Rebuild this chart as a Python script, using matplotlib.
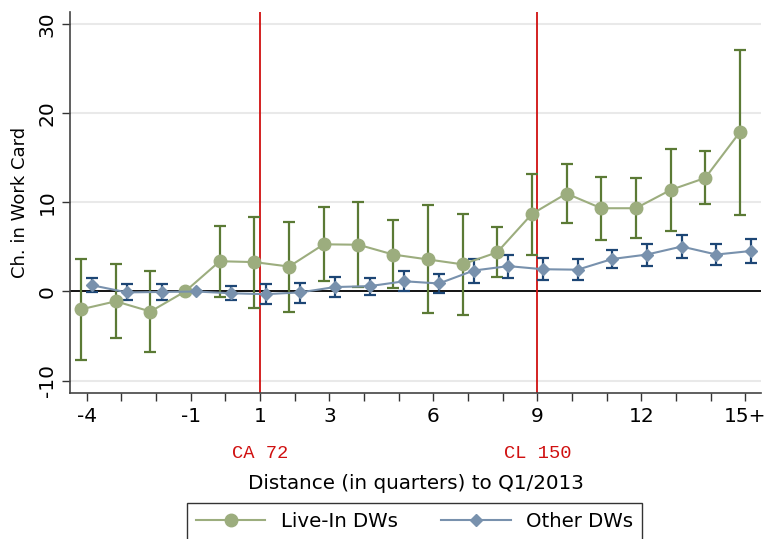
import numpy as np
import matplotlib
matplotlib.use('Agg')
import matplotlib.pyplot as plt

# trimestres relativos a Q1/2013 (15 = 15+)
quarters = np.arange(-4, 16)
tick_labels = {-4: '-4', -1: '-1', 1: '1', 3: '3', 6: '6', 9: '9', 12: '12', 15: '15+'}

# Live-In DWs
live_mean = [-2.0, -1.1, -2.25, 0.0, 3.4, 3.3, 2.8, 5.3, 5.25, 4.15, 3.6, 3.05, 4.4, 8.7,
             11.0, 9.35, 9.35, 11.4, 12.75, 17.9]
live_hi = [3.7, 3.1, 2.3, 0.0, 7.4, 8.4, 7.8, 9.5, 10.0, 8.0, 9.7, 8.7, 7.2, 13.2,
           14.3, 12.9, 12.75, 16.0, 15.75, 27.1]
live_lo = [-7.7, -5.25, -6.8, 0.0, -0.6, -1.9, -2.25, 1.2, 0.45, 0.35, -2.4, -2.6, 1.6, 4.1,
           7.7, 5.8, 6.0, 6.8, 9.8, 8.6]

# Other DWs
other_mean = [0.7, -0.1, -0.05, 0.0, -0.2, -0.3, -0.1, 0.5, 0.6, 1.15, 0.9, 2.35, 2.85, 2.5,
              2.45, 3.65, 4.15, 5.05, 4.15, 4.55]
other_hi = [1.5, 0.8, 0.8, 0.0, 0.6, 0.85, 1.0, 1.65, 1.5, 2.3, 2.0, 3.6, 4.15, 3.8,
            3.7, 4.65, 5.3, 6.4, 5.3, 5.9]
other_lo = [-0.1, -1.0, -0.9, 0.0, -1.0, -1.4, -1.25, -0.6, -0.35, 0.05, -0.2, 1.0, 1.5, 1.25,
            1.25, 2.65, 2.9, 3.8, 3.0, 3.25]

# leyes (trimestre, etiqueta)
events = [(1, 'CA 72'), (9, 'CL 150')]

green_line = '#9cad7e'
green_err = '#5b7a35'
blue_line = '#7891ad'
blue_err = '#1d4675'
red = '#d01010'

fig = plt.figure(figsize=(7.64, 5.39), dpi=100)
ax = fig.add_axes([0.0916, 0.270, 0.905, 0.708])

for y in [-10, 10, 20, 30]:
    ax.axhline(y, color='#e9e9e9', lw=1.5, zorder=0)
ax.axhline(0, color='black', lw=1.3, zorder=1)

for q, lab in events:
    ax.axvline(q, color=red, lw=1.3, zorder=1)
    ax.text(q, -18.2, lab, color=red, ha='center', va='center',
            family='Liberation Mono', fontsize=13.5)

off = 0.16
x_live = quarters - off
x_other = quarters + off

def err(mean, lo, hi):
    m = np.array(mean)
    return [m - np.array(lo), np.array(hi) - m]

ax.errorbar(x_live, live_mean, yerr=err(live_mean, live_lo, live_hi), fmt='none',
            ecolor=green_err, elinewidth=1.6, capsize=4, capthick=1.6, zorder=2)
ax.errorbar(x_other, other_mean, yerr=err(other_mean, other_lo, other_hi), fmt='none',
            ecolor=blue_err, elinewidth=1.6, capsize=4, capthick=1.6, zorder=2)
ax.plot(x_live, live_mean, color=green_line, lw=1.5, marker='o', ms=9,
        mfc=green_line, mec=green_line, zorder=3, label='Live-In DWs')
ax.plot(x_other, other_mean, color=blue_line, lw=1.5, marker='D', ms=6,
        mfc=blue_line, mec=blue_line, zorder=3, label='Other DWs')

ax.set_xlim(-4.48, 15.46)
ax.set_ylim(-11.45, 31.4)
ax.set_xticks(quarters)
ax.set_xticklabels([tick_labels.get(q, '') for q in quarters])
ax.set_yticks([-10, 0, 10, 20, 30])
ax.set_yticklabels(['-10', '0', '10', '20', '30'], rotation=90, va='center')
ax.tick_params(axis='both', labelsize=14.5, length=6, width=1, color='#333333')
ax.tick_params(axis='x', pad=4)

for s in ['top', 'right']:
    ax.spines[s].set_visible(False)
for s in ['left', 'bottom']:
    ax.spines[s].set_color('#444444')
    ax.spines[s].set_linewidth(1.2)

ax.set_ylabel('Ch. in Work Card', fontsize=13, labelpad=6)
ax.set_xlabel('Distance (in quarters) to Q1/2013', fontsize=14.3, labelpad=34)

leg = fig.legend(loc='upper center', bbox_to_anchor=(0.543, 0.067), ncol=2,
                 fontsize=14.2, frameon=True, fancybox=False, edgecolor='black',
                 handlelength=3.5, columnspacing=2.2, borderpad=0.45, borderaxespad=0)
leg.get_frame().set_linewidth(1.0)

fig.savefig('out.png', dpi=100)
